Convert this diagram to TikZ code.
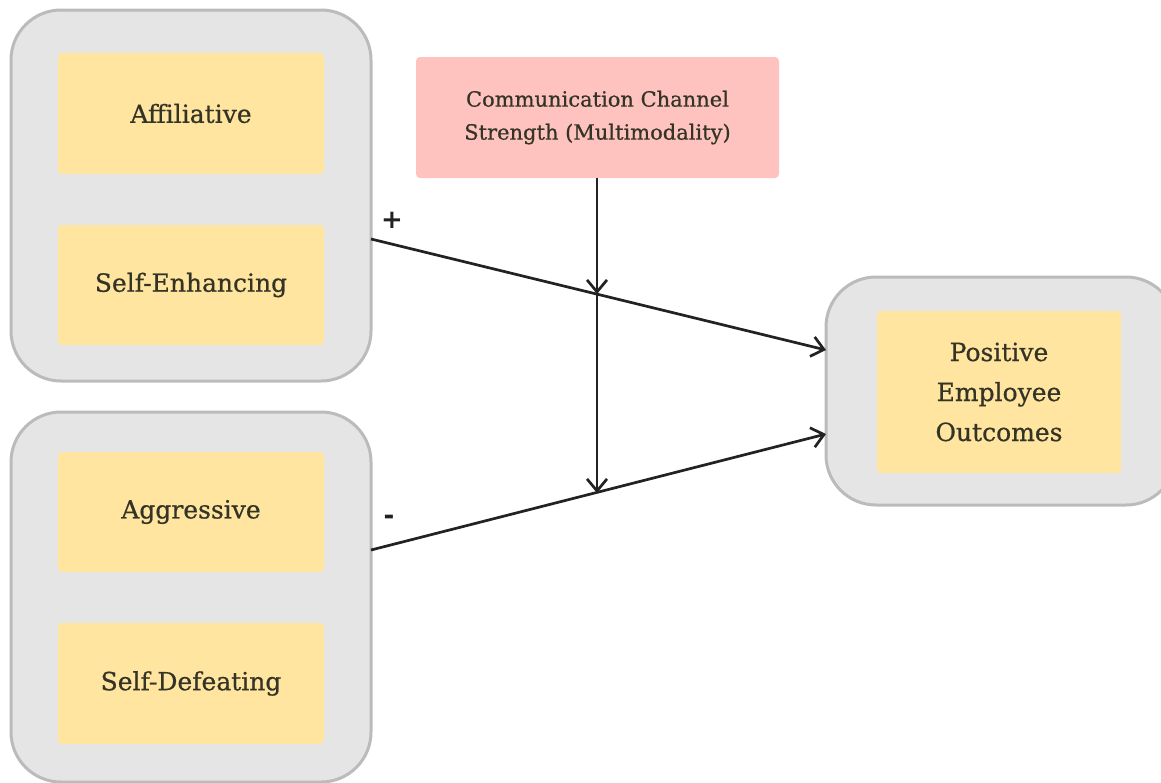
\documentclass[tikz,border=0pt]{standalone}
\usepackage{fontspec}
\setmainfont{DejaVu Serif}[FakeBold=0.6]
\newfontfamily\signfont{DejaVu Sans}
\usetikzlibrary{arrows.meta}
\definecolor{grpfill}{HTML}{E5E5E5}
\definecolor{grpline}{HTML}{BBBBBB}
\definecolor{boxfill}{HTML}{FFE59F}
\definecolor{pinkfill}{HTML}{FFC3BF}
\definecolor{txt}{HTML}{333326}
\definecolor{arr}{HTML}{222222}
\tikzset{
  grp/.style={draw=grpline, line width=3pt, fill=grpfill, rounded corners=50pt, inner sep=0pt},
  item/.style={fill=boxfill, rounded corners=4pt, inner sep=0pt, text=txt, font=\fontsize{25}{30}\selectfont, align=center},
  modbox/.style={fill=pinkfill, rounded corners=4pt, inner sep=0pt, text=txt, font=\fontsize{21}{33}\selectfont, align=center},
  conn/.style={draw=arr, line width=2.7pt, -{Straight Barb[length=12pt,width=20pt,line width=2.7pt]}},
  sign/.style={text=arr, font=\signfont\bfseries\fontsize{26}{30}\selectfont, inner sep=0pt}
}
\begin{document}
\begin{tikzpicture}[x=1pt,y=-1pt]
\useasboundingbox (0,0) rectangle (1161,782);
% groups
\node[grp, minimum width=360pt, minimum height=371pt] (g1) at (191,195.5) {};
\node[grp, minimum width=360pt, minimum height=370pt] (g2) at (191,597) {};
\node[grp, minimum width=350pt, minimum height=228pt] (g3) at (1001,391) {};
% items
\node[item, minimum width=266pt, minimum height=121pt] (aff) at (191,113.5) {Affiliative};
\node[item, minimum width=266pt, minimum height=120pt] (se) at (191,285) {Self-Enhancing};
\node[item, minimum width=266pt, minimum height=120pt] (agg) at (191,512) {Aggressive};
\node[item, minimum width=266pt, minimum height=121pt] (sd) at (191,683.5) {Self-Defeating};
\node[item, minimum width=244pt, minimum height=162pt, font=\fontsize{25}{40}\selectfont] (peo) at (999,392) {Positive\\Employee\\Outcomes};
\node[modbox, minimum width=363pt, minimum height=121pt] (ccs) at (597.5,117.5) {Communication Channel\\Strength (Multimodality)};
% connector points
\coordinate (p1) at (371,239);
\coordinate (q1) at (826,350);
\coordinate (p2) at (371,550);
\coordinate (q2) at (826,434);
\coordinate (m1) at (597,294);
\coordinate (m2) at (597,493);
% connectors
\draw[conn] (p1) -- (q1);
\draw[conn] (p2) -- (q2);
\draw[conn] (ccs.south -| m1) -- (m1);
\draw[conn] (m1) -- (m2);
% signs
\node[sign] (plus) at (392,220) {+};
\node[sign] (minus) at (389,520) {-};
\end{tikzpicture}
\end{document}
